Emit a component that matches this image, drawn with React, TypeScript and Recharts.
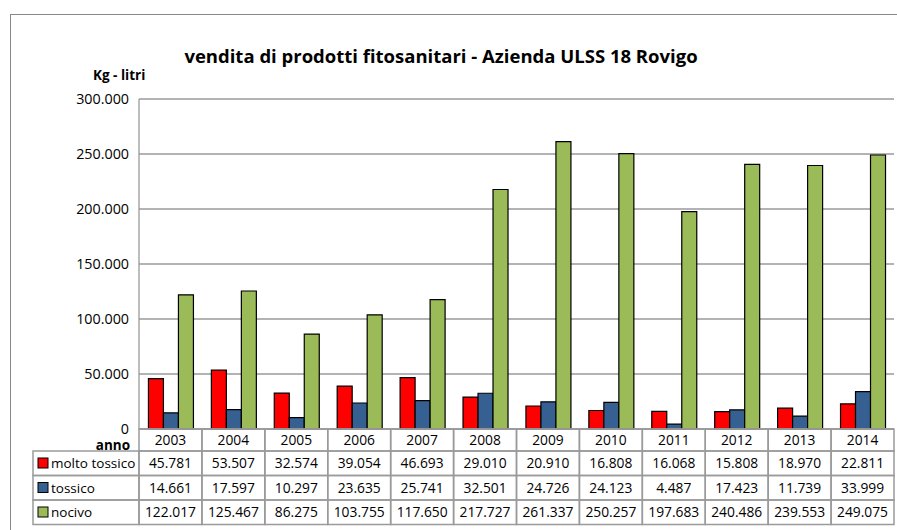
import React from 'react'
import { BarChart, Bar, XAxis, YAxis, CartesianGrid } from 'recharts'

const YEARS = ['2003', '2004', '2005', '2006', '2007', '2008', '2009', '2010', '2011', '2012', '2013', '2014']
const MOLTO_TOSSICO = [45781, 53507, 32574, 39054, 46693, 29010, 20910, 16808, 16068, 15808, 18970, 22811]
const TOSSICO = [14661, 17597, 10297, 23635, 25741, 32501, 24726, 24123, 4487, 17423, 11739, 33999]
const NOCIVO = [122017, 125467, 86275, 103755, 117650, 217727, 261337, 250257, 197683, 240486, 239553, 249075]
const Y_TICKS = [0, 50000, 100000, 150000, 200000, 250000, 300000]

const SERIES = [
  { key: 'molto', name: 'molto tossico', color: '#FF0000', values: MOLTO_TOSSICO },
  { key: 'tossico', name: 'tossico', color: '#376092', values: TOSSICO },
  { key: 'nocivo', name: 'nocivo', color: '#9BBB59', values: NOCIVO },
]

const data = YEARS.map((anno, i) => ({
  anno,
  molto: MOLTO_TOSSICO[i],
  tossico: TOSSICO[i],
  nocivo: NOCIVO[i],
}))

const FONT = "'Open Sans', sans-serif"
const GRID = '#9a9a9a'
const PLOT_W = 755
const COL_W = PLOT_W / YEARS.length
const LABEL_W = 106
const YEAR_H = 22
const ROW_H = 24.5

// 45781 -> "45.781"
const fmt = (v: number) => String(v).replace(/\B(?=(\d{3})+(?!\d))/g, '.')

function TableTick(props: any) {
  const { x, y, payload } = props
  const i = payload.index ?? YEARS.indexOf(payload.value)
  const left = x - COL_W / 2
  const cells = SERIES.map((s, r) => {
    const top = y + YEAR_H + r * ROW_H
    return (
      <g key={s.key}>
        <rect x={left} y={top} width={COL_W} height={ROW_H} fill="none" stroke={GRID} strokeWidth={1.5} />
        <text x={x} y={top + ROW_H / 2 + 5} textAnchor="middle" fontSize={13.8} fontFamily={FONT} fill="#000">
          {fmt(s.values[i])}
        </text>
      </g>
    )
  })

  return (
    <g>
      <rect x={left} y={y} width={COL_W} height={YEAR_H} fill="none" stroke={GRID} strokeWidth={1.5} />
      <text x={x} y={y + YEAR_H / 2 + 5} textAnchor="middle" fontSize={13.8} fontFamily={FONT} fill="#000">
        {payload.value}
      </text>
      {cells}
      {i === 0 && (
        <g>
          <text x={left - 9} y={y + 21} textAnchor="end" fontSize={13.5} fontWeight="bold" fontFamily={FONT} fill="#000">
            anno
          </text>
          {SERIES.map((s, r) => {
            const top = y + YEAR_H + r * ROW_H
            return (
              <g key={s.key}>
                <rect x={left - LABEL_W} y={top} width={LABEL_W} height={ROW_H} fill="none" stroke={GRID} strokeWidth={1.5} />
                <rect x={left - LABEL_W + 5} y={top + 7} width={10} height={10} fill={s.color} stroke="#000" strokeWidth={1} />
                <text x={left - LABEL_W + 18} y={top + ROW_H / 2 + 5} fontSize={13.5} fontFamily={FONT} fill="#000">
                  {s.name}
                </text>
              </g>
            )
          })}
        </g>
      )}
    </g>
  )
}

export default function App() {
  return (
    <div style={{ position: 'absolute', left: 0, top: 0, width: 897, height: 530, background: '#fff', overflow: 'hidden' }}>
      <div
        style={{
          position: 'absolute',
          left: 10,
          top: 14,
          width: 900,
          height: 540,
          borderTop: '1.5px solid #888',
          borderLeft: '1.5px solid #888',
        }}
      />
      <div
        style={{
          position: 'absolute',
          left: 0,
          width: 882,
          top: 43,
          textAlign: 'center',
          fontFamily: FONT,
          fontWeight: 'bold',
          fontSize: 18.5,
        }}
      >
        vendita di prodotti fitosanitari - Azienda ULSS 18 Rovigo
      </div>
      <div
        style={{
          position: 'absolute',
          left: 93,
          top: 66,
          fontFamily: FONT,
          fontWeight: 'bold',
          fontSize: 13.5,
        }}
      >
        Kg - litri
      </div>
      <div style={{ position: 'absolute', left: 0, top: 0 }}>
        <BarChart
          width={897}
          height={530}
          data={data}
          margin={{ top: 99, right: 3, bottom: 6, left: 10 }}
          barCategoryGap="15%"
          barGap={0}
        >
          <CartesianGrid vertical={false} stroke={GRID} strokeWidth={1.3} />
          <YAxis
            width={129}
            domain={[0, 300000]}
            ticks={Y_TICKS}
            tickFormatter={fmt}
            tickLine={false}
            tickSize={0}
            tickMargin={10}
            axisLine={{ stroke: GRID, strokeWidth: 1.3 }}
            tick={{ fill: '#000', fontSize: 14.3, fontFamily: FONT }}
            interval={0}
          />
          <XAxis
            dataKey="anno"
            height={95}
            tickLine={false}
            tickSize={0}
            tickMargin={0}
            axisLine={{ stroke: GRID, strokeWidth: 1.3 }}
            interval={0}
            tick={<TableTick />}
          />
          {SERIES.map((s) => (
            <Bar
              key={s.key}
              dataKey={s.key}
              name={s.name}
              fill={s.color}
              stroke="#000"
              strokeWidth={1.2}
              isAnimationActive={false}
            />
          ))}
        </BarChart>
      </div>
    </div>
  )
}
